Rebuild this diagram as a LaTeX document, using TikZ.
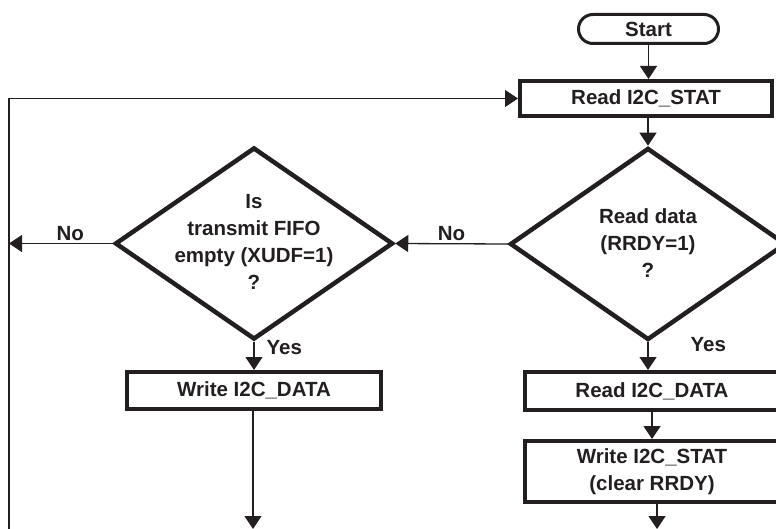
\documentclass[tikz,border=0pt]{standalone}
\usepackage{fontspec}
\setmainfont{Liberation Sans}
\usetikzlibrary{shapes.geometric,shapes.misc,arrows.meta}
\definecolor{ink}{HTML}{231F20}
\begin{document}
\begin{tikzpicture}[x=1pt,y=-1pt,
  every node/.style={font=\fontsize{20.5}{27}\selectfont\bfseries, text=ink},
  box/.style={draw=ink, line width=4pt, rectangle, align=center, inner sep=0pt},
  dec/.style={draw=ink, line width=4.5pt, diamond, inner sep=0pt, minimum width=276pt, minimum height=192pt},
  dectext/.style={align=center, inner sep=0pt},
  term/.style={draw=ink, line width=3pt, rounded rectangle, minimum width=140pt, minimum height=29pt, inner sep=0pt},
  conn/.style={draw=ink, line width=1.3pt, -{Triangle[width=17pt,length=13pt]}},
  lbl/.style={inner sep=2pt}
]
\useasboundingbox (0,0) rectangle (776,529);
\fill[white] (0,0) rectangle (776,529);
\clip (0,0) rectangle (776,529);

\node[term] (start) at (648.5,29) {Start};
\node[box, minimum width=252pt, minimum height=35pt] (rstat) at (646,98.5) {Read I2C\_STAT};
\node[dec] (rd) at (648,244) {};
\node[dectext] (rdtext) at (648,243) {Read data\\(RRDY=1)\\?};
\node[dec, minimum width=278pt] (td) at (254,243.5) {};
\node[dectext] (tdtext) at (254,241.5) {Is\\transmit FIFO\\empty (XUDF=1)\\?};
\node[box, minimum width=254pt, minimum height=37pt] (wdata) at (254,390.5) {Write I2C\_DATA};
\node[box, minimum width=254pt, minimum height=38pt] (rdata) at (652,391) {Read I2C\_DATA};
\node[box, minimum width=254pt, minimum height=61pt] (wstat) at (652,471.5) {Write I2C\_STAT\\(clear RRDY)};

\coordinate (lb) at (9,529);
\coordinate (ln) at (9,243.5);
\coordinate (le) at (253,529);
\coordinate (re) at (657,529);

\draw[conn] (start.south) -- (start.south |- rstat.north);
\draw[conn] (rstat.south -| rd.north) -- (rd.north);
\draw[conn] (rd.west) -- node[lbl, above] {No} (td.east);
\draw[conn] (td.west) -- node[lbl, above, pos=0.41] {No} (ln);
\draw[conn] (td.south) -- node[lbl, right=10pt, pos=0.2] {Yes} (wdata.north);
\draw[conn] (rd.south) -- node[lbl, right=40pt, pos=0.1] {Yes} (rd.south |- rdata.north);
\draw[conn] (rdata.south) -- (wstat.north);
\draw[conn] (wstat.south -| re) -- (re);
\draw[conn] (wdata.south -| le) -- (le);
\draw[conn] (lb) |- (rstat.west);
\end{tikzpicture}
\end{document}
